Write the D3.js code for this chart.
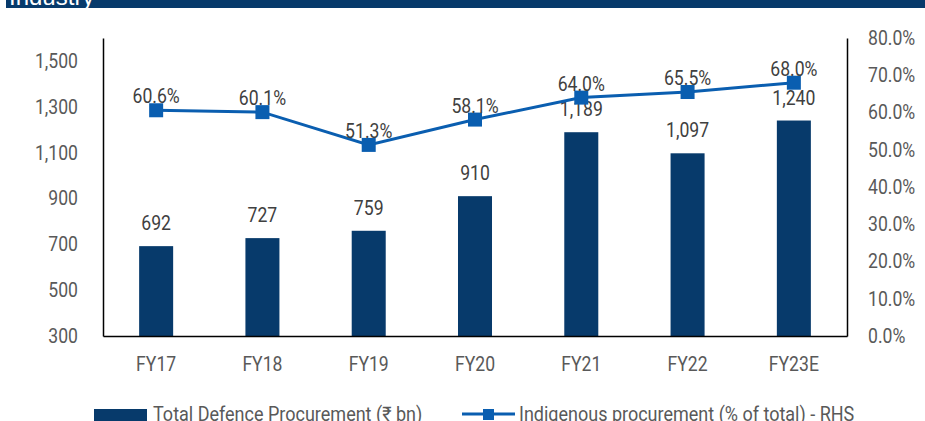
<!DOCTYPE html>
<meta charset="utf-8">
<style>
body { margin: 0; background: #fff; font-family: Roboto, "Noto Sans", sans-serif; }
.axis text { fill: #595959; font-size: 20px; font-family: Roboto, sans-serif; }
.lbl { fill: #404040; font-size: 20px; }
.leg { fill: #595959; font-size: 20px; }
</style>
<script src="https://d3js.org/d3.v7.min.js"></script>
<body>
<div id="chart"></div>
<script>
// data
var years = ["FY17", "FY18", "FY19", "FY20", "FY21", "FY22", "FY23E"];
var procurement = [692, 727, 759, 910, 1189, 1097, 1240];   // Rs bn
var indigenous = [60.6, 60.1, 51.3, 58.1, 64.0, 65.5, 68.0]; // % of total
var leftTicks = [300, 500, 700, 900, 1100, 1300, 1500];
var rightTicks = [0, 10, 20, 30, 40, 50, 60, 70, 80];

var W = 925, H = 421;
var margin = {top: 38, left: 103, right: 78, bottom: 85};
var width = W - margin.left - margin.right,
    height = H - margin.top - margin.bottom;

var svg = d3.select("#chart").append("svg")
    .attr("width", W).attr("height", H);

// title strip (cut off at top)
svg.append("rect").attr("x", 6).attr("y", 0).attr("width", W - 6).attr("height", 8)
  .attr("fill", "#073a6b");
svg.append("text").attr("x", 9).attr("y", 5).attr("fill", "#fff")
  .style("font-family", "'Liberation Sans', Arial, sans-serif").style("font-size", "24px")
  .text("Industry");

var g = svg.append("g").attr("transform", "translate(" + margin.left + "," + margin.top + ")");

var x = d3.scaleBand().domain(years).range([0, width]).padding(0);
var yL = d3.scaleLinear().domain([300, 1600]).range([height, 0]);
var yR = d3.scaleLinear().domain([0, 80]).range([height, 0]);
var fmt = d3.format(",");
var barW = x.bandwidth() * 0.32;
var cx = function(i) { return x(years[i]) + x.bandwidth() / 2; };

// bars
g.selectAll("rect.bar").data(procurement).enter().append("rect")
  .attr("class", "bar")
  .attr("x", function(d, i) { return cx(i) - barW / 2; })
  .attr("y", function(d) { return yL(d); })
  .attr("width", barW)
  .attr("height", function(d) { return height - yL(d); })
  .attr("fill", "#073a6b");

g.selectAll("text.blbl").data(procurement).enter().append("text")
  .attr("class", "lbl cond")
  .attr("x", function(d, i) { return cx(i); })
  .attr("y", function(d) { return yL(d) - 16; })
  .attr("text-anchor", "middle")
  .text(function(d) { return fmt(d); });

// line
var line = d3.line()
  .x(function(d, i) { return cx(i); })
  .y(function(d) { return yR(d); });
g.append("path").datum(indigenous)
  .attr("d", line).attr("fill", "none")
  .attr("stroke", "#0a5eb0").attr("stroke-width", 3);

g.selectAll("rect.mk").data(indigenous).enter().append("rect")
  .attr("x", function(d, i) { return cx(i) - 7; })
  .attr("y", function(d) { return yR(d) - 7; })
  .attr("width", 14).attr("height", 14)
  .attr("fill", "#0a5eb0");

g.selectAll("text.llbl").data(indigenous).enter().append("text")
  .attr("class", "lbl cond")
  .attr("x", function(d, i) { return cx(i); })
  .attr("y", function(d) { return yR(d) - 7; })
  .attr("text-anchor", "middle")
  .text(function(d) { return d.toFixed(1) + "%"; });

// axes
var axL = g.append("g").attr("class", "axis")
  .call(d3.axisLeft(yL).tickValues(leftTicks).tickSize(0).tickPadding(25).tickFormat(fmt));
var axR = g.append("g").attr("class", "axis").attr("transform", "translate(" + width + ",0)")
  .call(d3.axisRight(yR).tickValues(rightTicks).tickSize(0).tickPadding(21)
    .tickFormat(function(d) { return d.toFixed(1) + "%"; }));
var axB = g.append("g").attr("class", "axis").attr("transform", "translate(0," + height + ")")
  .call(d3.axisBottom(x).tickSize(0).tickPadding(21));
[axL, axR, axB].forEach(function(a) {
  a.select(".domain").attr("stroke", "#000").attr("stroke-width", 1.5);
  a.selectAll("text").classed("cond", true);
});

// legend
var lg = svg.append("g");
lg.append("rect").attr("x", 94).attr("y", 409).attr("width", 53).attr("height", 14).attr("fill", "#073a6b");
lg.append("text").attr("class", "leg cond wide").attr("x", 153).attr("y", 421)
  .text("Total Defence Procurement (₹ bn)");
lg.append("line").attr("x1", 462).attr("x2", 515).attr("y1", 414).attr("y2", 414)
  .attr("stroke", "#0a5eb0").attr("stroke-width", 3);
lg.append("rect").attr("x", 483).attr("y", 409).attr("width", 11).attr("height", 11).attr("fill", "#0a5eb0");
lg.append("text").attr("class", "leg cond wide").attr("x", 519).attr("y", 421)
  .text("Indigenous procurement (% of total) - RHS");

// squeeze text horizontally to mimic the narrow font
svg.selectAll("text.cond").each(function() {
  var len = this.getComputedTextLength();
  var k = d3.select(this).classed("wide") ? 0.9 : 0.88;
  d3.select(this).attr("textLength", len * k).attr("lengthAdjust", "spacingAndGlyphs");
});
</script>
</body>
